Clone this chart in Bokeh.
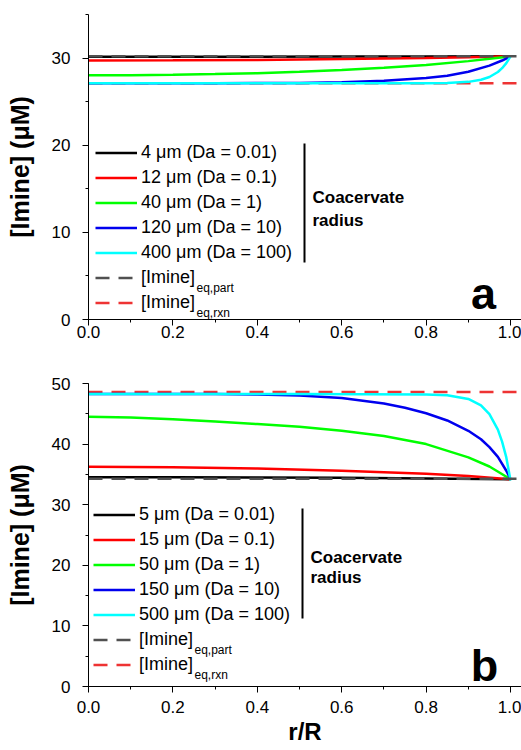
from bokeh.plotting import figure
from bokeh.models import (Range1d, SingleIntervalTicker, Legend, LegendItem, Label, Arrow,
                          PrintfTickFormatter)
from bokeh.layouts import column
from bokeh.embed import file_html
from bokeh.resources import INLINE

FONT = "Liberation Sans"

# ---------------- data: panel a ----------------
a_labels = ["4 \u03bcm (Da = 0.01)", "12 \u03bcm (Da = 0.1)", "40 \u03bcm (Da = 1)",
            "120 \u03bcm (Da = 10)", "400 \u03bcm (Da = 100)"]
r_a_black = [0, 0.2, 0.4, 0.6, 0.8, 1.0]
c_a_black = [30.15, 30.15, 30.16, 30.17, 30.18, 30.2]
r_a_red = [0, 0.2, 0.4, 0.6, 0.8, 0.9, 1.0]
c_a_red = [29.72, 29.74, 29.79, 29.88, 30.02, 30.10, 30.2]
r_a_green = [0, 0.1, 0.2, 0.3, 0.4, 0.5, 0.6, 0.7, 0.8, 0.9, 0.95, 1.0]
c_a_green = [28.03, 28.04, 28.09, 28.16, 28.27, 28.42, 28.62, 28.88, 29.21, 29.65, 29.91, 30.2]
r_a_blue = [0, 0.3, 0.5, 0.6, 0.7, 0.8, 0.85, 0.9, 0.95, 0.98, 1.0]
c_a_blue = [27.1, 27.11, 27.15, 27.22, 27.40, 27.70, 27.98, 28.43, 29.13, 29.72, 30.2]
r_a_cyan = [0, 0.5, 0.8, 0.85, 0.9, 0.93, 0.95, 0.97, 0.98, 0.99, 1.0]
c_a_cyan = [27.1, 27.1, 27.11, 27.14, 27.27, 27.51, 27.83, 28.40, 28.84, 29.42, 30.2]
a_eq_part = 30.2
a_eq_rxn = 27.1

# ---------------- data: panel b ----------------
b_labels = ["5 \u03bcm (Da = 0.01)", "15 \u03bcm (Da = 0.1)", "50 \u03bcm (Da = 1)",
            "150 \u03bcm (Da = 10)", "500 \u03bcm (Da = 100)"]
r_b_black = [0, 0.2, 0.4, 0.6, 0.8, 1.0]
c_b_black = [34.55, 34.54, 34.5, 34.43, 34.33, 34.2]
r_b_red = [0, 0.2, 0.4, 0.6, 0.8, 0.9, 1.0]
c_b_red = [36.25, 36.18, 35.98, 35.62, 35.1, 34.72, 34.2]
r_b_green = [0, 0.1, 0.2, 0.3, 0.4, 0.5, 0.6, 0.7, 0.8, 0.9, 0.95, 1.0]
c_b_green = [44.5, 44.38, 44.1, 43.72, 43.3, 42.85, 42.2, 41.35, 40.0, 37.8, 36.3, 34.2]
r_b_blue = [0, 0.3, 0.4, 0.5, 0.6, 0.7, 0.75, 0.8, 0.85, 0.9, 0.93, 0.95, 0.97, 0.99, 1.0]
c_b_blue = [48.25, 48.25, 48.2, 48.0, 47.6, 46.7, 46.0, 45.1, 43.9, 42.2, 40.8, 39.5, 37.9, 35.6, 34.2]
r_b_cyan = [0, 0.5, 0.8, 0.85, 0.9, 0.93, 0.95, 0.97, 0.98, 0.99, 1.0]
c_b_cyan = [48.25, 48.25, 48.2, 48.07, 47.45, 46.4, 44.95, 42.4, 40.4, 37.8, 34.0]
b_eq_part = 34.3
b_eq_rxn = 48.6

r_full = [0.0, 1.05]

colors = ["#000000", "#FF0000", "#00FF00", "#0000EE", "#00FFFF"]
part_color = "#505050"
rxn_color = "#EE3333"


def make_fig(height, ymax, btop, bbottom, xstandoff):
    p = figure(width=521, height=height, x_range=Range1d(0, 1.026), y_range=Range1d(0, ymax),
               output_backend="svg", toolbar_location=None,
               min_border_left=88, min_border_right=0,
               min_border_top=btop, min_border_bottom=bbottom)
    p.outline_line_color = None
    p.grid.visible = False
    p.background_fill_color = "white"
    p.border_fill_color = "white"
    p.xaxis.ticker = SingleIntervalTicker(interval=0.2, num_minor_ticks=2)
    p.xaxis.formatter = PrintfTickFormatter(format="%.1f")
    p.yaxis.ticker = SingleIntervalTicker(interval=10, num_minor_ticks=2)
    for ax in (p.xaxis[0], p.yaxis[0]):
        ax.axis_line_color = "black"
        ax.axis_line_width = 1
        ax.major_tick_line_color = "black"
        ax.minor_tick_line_color = "black"
        ax.major_tick_in = 0
        ax.major_tick_out = 6
        ax.minor_tick_in = 0
        ax.minor_tick_out = 3
        ax.major_label_text_font = FONT
        ax.major_label_text_font_size = "17px"
        ax.major_label_text_color = "black"
        ax.axis_label_text_font = FONT
        ax.axis_label_text_font_style = "bold"
        ax.axis_label_text_color = "black"
    p.yaxis.major_label_standoff = 12
    p.xaxis.major_label_standoff = xstandoff
    p.yaxis.axis_label = "[Imine] (\u03bcM)"
    p.yaxis.axis_label_text_font_size = "25px"
    p.yaxis.axis_label_standoff = 15
    return p


def draw_panel(p, curves, labels, eq_part, eq_rxn, leg_loc, bar, text_y, sub_y, letter, letter_pos):
    rxn = p.line(r_full, [eq_rxn, eq_rxn], line_color=rxn_color, line_width=2.5, line_dash="14 9")
    rends = []
    for (rr, cc), col in zip(curves, colors):
        rends.append(p.line(rr, cc, line_color=col, line_width=2.5))
    part = p.line(r_full, [eq_part, eq_part], line_color=part_color, line_width=2.5, line_dash="14 9")
    items = [LegendItem(label=lab, renderers=[r]) for lab, r in zip(labels, rends)]
    items.append(LegendItem(label="[Imine]", renderers=[part]))
    items.append(LegendItem(label="[Imine]", renderers=[rxn]))
    leg = Legend(items=items, location=leg_loc, orientation="vertical",
                 background_fill_alpha=0, border_line_color=None, padding=0, margin=0,
                 spacing=4, glyph_width=42, glyph_height=21, label_height=21, label_standoff=4,
                 label_text_font=FONT, label_text_font_size="18px", label_text_color="black")
    p.add_layout(leg)
    # subscripts of the dashed legend entries
    for txt, sy in zip(["eq,part", "eq,rxn"], sub_y):
        p.add_layout(Label(x=leg_loc[0] + 46 + 55, y=sy, x_units="screen", y_units="screen",
                           text=txt, text_font=FONT, text_font_size="12px", text_color="black",
                           text_baseline="alphabetic"))
    # bracket bar + "Coacervate radius"
    bx, by0, by1 = bar
    p.add_layout(Arrow(end=None, x_start=bx, y_start=by0, x_end=bx, y_end=by1,
                       start_units="screen", end_units="screen", line_width=2, line_color="black"))
    for txt, ty in zip(["Coacervate", "radius"], text_y):
        p.add_layout(Label(x=bx + 8, y=ty, x_units="screen", y_units="screen", text=txt,
                           text_font=FONT, text_font_size="17px", text_font_style="bold",
                           text_color="black", text_baseline="alphabetic"))
    p.add_layout(Label(x=letter_pos[0], y=letter_pos[1], x_units="screen", y_units="screen",
                       text=letter, text_font=FONT, text_font_size="45px", text_font_style="bold",
                       text_color="black", text_align="center", text_baseline="alphabetic"))


p1 = make_fig(370, 35, 14, 51, 0)
draw_panel(p1,
           [(r_a_black, c_a_black), (r_a_red, c_a_red), (r_a_green, c_a_green),
            (r_a_blue, c_a_blue), (r_a_cyan, c_a_cyan)],
           a_labels, a_eq_part, a_eq_rxn, (7, 6), (216, 176, 57), (122, 99), (31.5, 6.5),
           "a", (395, 26))

p2 = make_fig(380, 50, 13, 64, 8)
p2.xaxis.axis_label = "r/R"
p2.xaxis.axis_label_text_font_size = "24px"
p2.xaxis.axis_label_standoff = 2
draw_panel(p2,
           [(r_b_black, c_b_black), (r_b_red, c_b_red), (r_b_green, c_b_green),
            (r_b_blue, c_b_blue), (r_b_cyan, c_b_cyan)],
           b_labels, b_eq_part, b_eq_rxn, (5, 11), (214, 178, 68), (129, 109), (36.7, 11.7),
           "b", (396, 21))

layout = column(p1, p2, spacing=0)
open("out.html", "w").write(file_html(layout, INLINE))
